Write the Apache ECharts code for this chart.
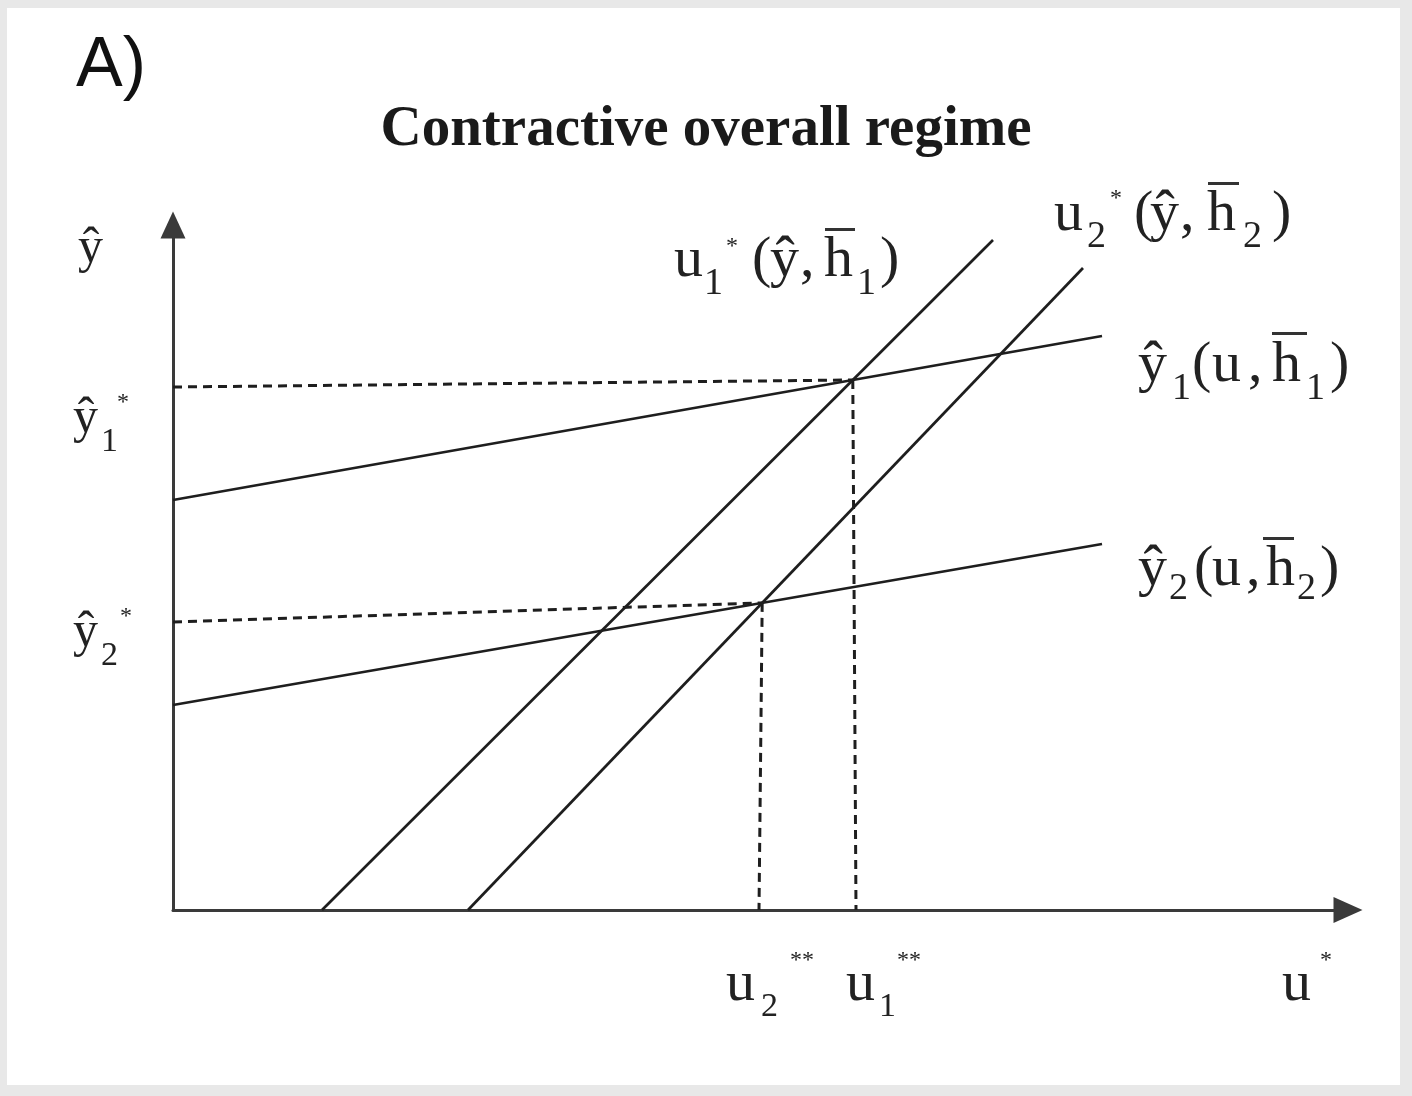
<!DOCTYPE html>
<html>
<head>
<meta charset="utf-8">
<title>Contractive overall regime</title>
<script src="https://cdn.jsdelivr.net/npm/echarts@6/dist/echarts.min.js"></script>
<style>
  html, body { margin: 0; padding: 0; background: #e8e8e8; }
  #chart { width: 1412px; height: 1096px; }
</style>
</head>
<body>
<div id="chart"></div>
<script>
// Schedules in (u, ŷ) space, each given by its two end points
const yHat1 = [[0, 41.0], [92.9, 57.4]];   // ŷ1(u, h̄1)
const yHat2 = [[0, 20.5], [92.9, 36.6]];   // ŷ2(u, h̄2)
const uStar1 = [[14.9, 0], [82.0, 67.0]];  // u1*(ŷ, h̄1)
const uStar2 = [[29.5, 0], [91.0, 64.2]];  // u2*(ŷ, h̄2)
// Where the dashed guides reach the ŷ axis and the u axis
const guideYLevels = [52.3, 28.8];         // ŷ1*, ŷ2*
const guideXFeet = [68.3, 58.6];           // u1**, u2**
const axisMax = { x: 117.5, y: 68.5 };

// Intersection of two straight schedules
function meet(a, b) {
  const s1 = (a[1][1] - a[0][1]) / (a[1][0] - a[0][0]);
  const s2 = (b[1][1] - b[0][1]) / (b[1][0] - b[0][0]);
  const c1 = a[0][1] - s1 * a[0][0];
  const c2 = b[0][1] - s2 * b[0][0];
  const x = (c2 - c1) / (s1 - s2);
  return [x, s1 * x + c1];
}
const eq1 = meet(yHat1, uStar1);
const eq2 = meet(yHat2, uStar2);

const INK = '#1e1e1e';
const solid = (data) => ({
  type: 'line', data, symbol: 'none', silent: true, animation: false,
  lineStyle: { color: INK, width: 2.7 }, z: 3
});
const dashed = (data) => ({
  type: 'line', data, symbol: 'none', silent: true, animation: false,
  lineStyle: { color: INK, width: 3, type: [9, 6] }, z: 2
});

// Math labels are assembled from small text pieces
const SERIF = '"Liberation Serif", "Times New Roman", serif';
const M = 58, S = 38, ST = 24;
function piece(text, x, base, size) {
  return {
    type: 'text', x: x, y: base - 0.3 * size, silent: true,
    style: { text: text, font: size + 'px ' + SERIF, fill: '#222',
             align: 'left', verticalAlign: 'middle' }
  };
}
function bar(x, y, w) {
  return { type: 'rect', silent: true, shape: { x: x, y: y, width: w, height: 3 },
           style: { fill: '#333' } };
}
const labels = [
  // ŷ axis name and levels
  piece('ŷ', 78, 264, 50),
  piece('ŷ', 73, 434, 50), piece('1', 101, 452, 34), piece('*', 117, 410, ST),
  piece('ŷ', 73, 648, 50), piece('2', 101, 666, 34), piece('*', 120, 624, ST),
  // u axis marks
  piece('u', 726, 1002, M), piece('2', 761, 1017, 34), piece('**', 790, 968, ST),
  piece('u', 846, 1002, M), piece('1', 879, 1017, 34), piece('**', 897, 968, ST),
  piece('u', 1282, 1002, M), piece('*', 1320, 968, ST),
  // u1*(ŷ, h̄1)
  piece('u', 674, 278, M), piece('1', 704, 295, S), piece('*', 726, 254, ST),
  piece('(', 752, 278, M), piece('ŷ', 770, 278, M), piece(',', 800, 278, M),
  piece('h', 824, 278, M), bar(825, 228, 30), piece('1', 857, 295, S),
  piece(')', 880, 278, M),
  // u2*(ŷ, h̄2)
  piece('u', 1054, 232, M), piece('2', 1087, 248, S), piece('*', 1110, 206, ST),
  piece('(', 1134, 232, M), piece('ŷ', 1150, 232, M), piece(',', 1180, 232, M),
  piece('h', 1207, 232, M), bar(1208, 182, 31), piece('2', 1243, 248, S),
  piece(')', 1272, 232, M),
  // ŷ1(u, h̄1)
  piece('ŷ', 1138, 383, M), piece('1', 1172, 400, S),
  piece('(', 1192, 383, M), piece('u', 1212, 383, M), piece(',', 1248, 383, M),
  piece('h', 1272, 383, M), bar(1272, 332, 35), piece('1', 1306, 400, S),
  piece(')', 1330, 383, M),
  // ŷ2(u, h̄2)
  piece('ŷ', 1138, 587, M), piece('2', 1169, 600, S),
  piece('(', 1194, 587, M), piece('u', 1212, 587, M), piece(',', 1246, 587, M),
  piece('h', 1266, 587, M), bar(1263, 537, 31), piece('2', 1297, 600, S),
  piece(')', 1320, 587, M)
];

const chart = echarts.init(document.getElementById('chart'), null, { renderer: 'canvas' });
chart.setOption({
  animation: false,
  backgroundColor: '#e8e8e8',
  title: {
    text: 'Contractive overall regime',
    left: 'center', top: 97,
    textStyle: { fontFamily: SERIF, fontWeight: 'bold', fontSize: 57, color: '#1a1a1a' }
  },
  graphic: [
    { type: 'rect', z: -10, silent: true, shape: { x: 7, y: 8, width: 1393, height: 1077 },
      style: { fill: '#ffffff' } },
    { type: 'text', x: 76, y: 67, silent: true,
      style: { text: 'A)', font: '70px "Liberation Sans", Arial, sans-serif', fill: '#111',
               align: 'left', verticalAlign: 'middle' } }
  ].concat(labels),
  grid: { left: 173, right: 64, top: 225, bottom: 186, outerBoundsMode: 'none' },
  xAxis: {
    type: 'value', min: 0, max: axisMax.x,
    axisLine: { show: true, symbol: ['none', 'triangle'], symbolSize: [26, 29],
                lineStyle: { color: '#3a3a3a', width: 3 } },
    axisTick: { show: false }, axisLabel: { show: false }, splitLine: { show: false }
  },
  yAxis: {
    type: 'value', min: 0, max: axisMax.y,
    axisLine: { show: true, symbol: ['none', 'triangle'], symbolSize: [25, 27],
                lineStyle: { color: '#3a3a3a', width: 3 } },
    axisTick: { show: false }, axisLabel: { show: false }, splitLine: { show: false }
  },
  series: [
    solid(yHat1), solid(yHat2), solid(uStar1), solid(uStar2),
    dashed([[0, guideYLevels[0]], eq1]),
    dashed([eq1, [guideXFeet[0], 0]]),
    dashed([[0, guideYLevels[1]], eq2]),
    dashed([eq2, [guideXFeet[1], 0]])
  ]
});
</script>
</body>
</html>
